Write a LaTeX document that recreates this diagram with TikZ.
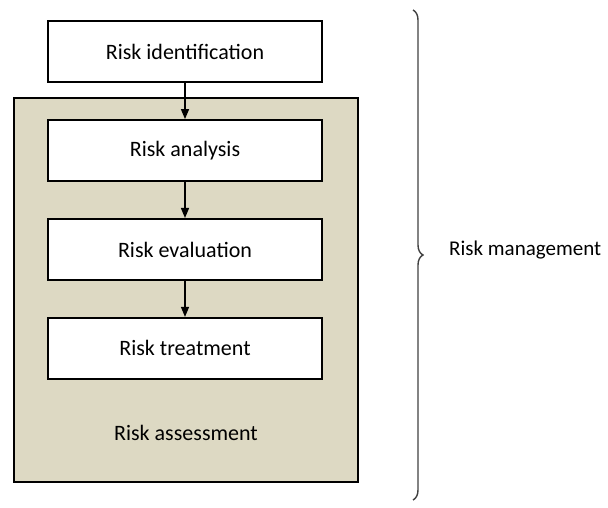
\documentclass[tikz,border=0pt]{standalone}
\usepackage{fontspec}
\setmainfont{Carlito}
\usetikzlibrary{arrows.meta, matrix, positioning, decorations.pathreplacing}
\definecolor{assessfill}{RGB}{221,217,195}
\tikzset{steptable/.style = {%
    matrix of nodes,
     nodes={draw, line width=1.9pt,
            fill=white,
            minimum width=274pt, minimum height=61pt,
            inner sep=0pt,
            font=\fontsize{22}{26}\selectfont,
            anchor=center},
    row sep=36pt,
    inner sep=0pt},
  flow/.style={-{Triangle[length=10pt,width=8pt]}, line width=1.4pt},
  assessbox/.style={draw, line width=1.9pt, fill=assessfill},
  mgmtbrace/.style={decorate, decoration={brace, amplitude=10pt},
                    draw=black!75, line width=1.4pt}}

\begin{document}
\begin{tikzpicture}[x=1pt, y=1pt]
\useasboundingbox (0,0) rectangle (608,507);
\draw[assessbox] (14,25) rectangle (358,409);
\matrix [steptable] (steps) at (185,307)
{
|(ident)| Risk identification \\
|(analysis)| Risk analysis \\
|(evaluation)| Risk evaluation \\
|(treatment)| Risk treatment \\
};
\node[font=\fontsize{22}{26}\selectfont] (assess) at (186,74) {Risk assessment};
\draw[flow] (ident) -- (analysis);
\draw[flow] (analysis) -- (evaluation);
\draw[flow] (evaluation) -- (treatment);
% brace round the whole process
\draw[mgmtbrace] (413,497) -- (413,7);
\coordinate (tip) at (424,257);
\node[right=25pt of tip, anchor=west, inner sep=0pt,
      font=\fontsize{21}{25}\selectfont] (mgmt) {Risk management};
\end{tikzpicture}
\end{document}
